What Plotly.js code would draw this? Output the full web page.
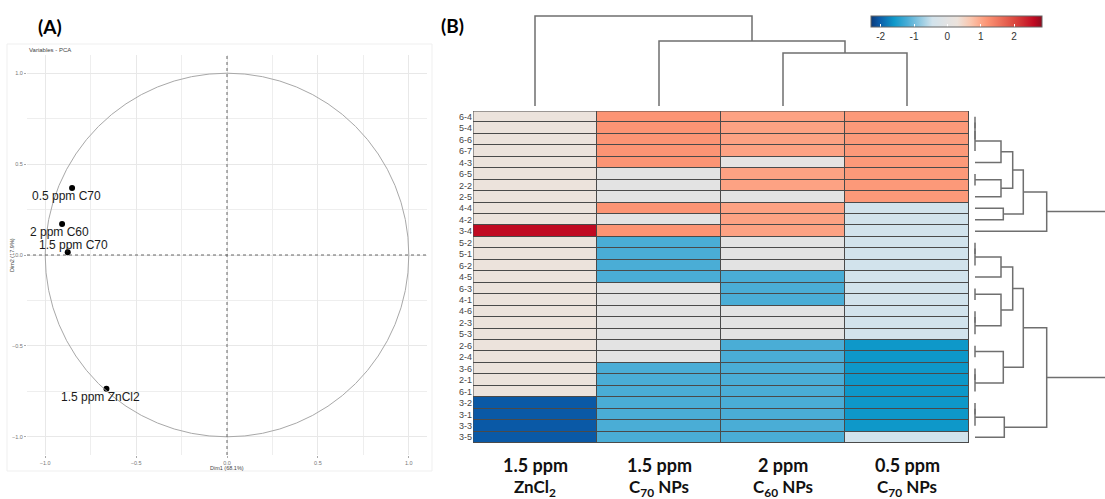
<!DOCTYPE html>
<html>
<head>
<meta charset="utf-8">
<script src="https://cdn.plot.ly/plotly-3.0.1.min.js"></script>
<style>html,body{margin:0;padding:0;background:#fff}#chart{width:1105px;height:499px}</style>
</head>
<body>
<div id="chart"></div>
<script>
// ---------- Panel A: PCA variables ----------
const pcaLabels = ['0.5 ppm C70', '2 ppm C60', '1.5 ppm C70', '1.5 ppm ZnCl2'];
const pcaDim1 = [-0.852, -0.907, -0.876, -0.663];
const pcaDim2 = [0.368, 0.170, 0.015, -0.736];
const pcaLabelDx = [-6, -3, 6, -6];
const pcaLabelDy = [-8, -8, 7, -8];

// ---------- Panel B: heatmap ----------
const rowLabels = ['6-4','5-4','6-6','6-7','4-3','6-5','2-2','2-5','4-4','4-2','3-4','5-2','5-1','6-2','4-5',
                   '6-3','4-1','4-6','2-3','5-3','2-6','2-4','3-6','2-1','6-1','3-2','3-1','3-3','3-5'];
const colLabelsTop = ['1.5 ppm', '1.5 ppm', '2 ppm', '0.5 ppm'];
const colLabelsBottom = ['ZnCl<sub>2</sub>', 'C<sub>70</sub> NPs', 'C<sub>60</sub> NPs', 'C<sub>70</sub> NPs'];
const zZnCl2_15 = [0.3,0.3,0.3,0.3,0.3,0.3,0.3,0.3,0.3,0.3,2.6,0.3,0.3,0.3,0.3,
                   0.3,0.3,0.3,0.3,0.3,0.3,0.3,0.3,0.3,0.3,-2.05,-2.05,-2.05,-2.05];
const zC70_15 =   [1.2,1.2,1.2,1.2,1.2,0,0,0,1.2,0,1.2,-1.2,-1.2,-1.2,-1.2,
                   0,0,0,0,0,0,0,-1.2,-1.2,-1.2,-1.2,-1.2,-1.2,-1.2];
const zC60_2 =    [1.05,1.05,1.05,1.05,0.05,1.05,1.05,0,1.05,1.05,1.05,0,0,0,-1.2,
                   -1.2,-1.2,0,0,0,-1.2,-1.2,-1.2,-1.2,-1.2,-1.2,-1.2,-1.2,-1.2];
const zC70_05 =   [1.15,1.15,1.15,1.15,1.15,1.15,1.15,1.15,-0.45,-0.45,-0.45,-0.45,-0.45,-0.45,-0.45,
                   -0.45,-0.45,-0.45,-0.45,-0.45,-1.6,-1.6,-1.6,-1.6,-1.6,-1.6,-1.6,-1.6,-0.45];
const zMin = -2.29, zMax = 2.84;
const cbTicks = [-2, -1, 0, 1, 2];
const cbTickText = ['-2', '-1', '0', '1', '2'];

// Dendrograms: node = [height, left, right]; a plain number is a leaf index
const colTree = [90, 0, [65, 1, [53, 2, 3]]];
const rowTree = [140,
  [71.7, [48.3, [37.7, [26, [0, [0, [0, 0, 1], 2], 3], 4], [26, [0, 5, 6], 7]], [28.3, 8, 9]], 10],
  [71.7,
    [48.3,
      [37.7, [26, [0, [0, 11, 12], 13], 14], [26, [0, 15, 16], [0, [0, 17, 18], 19]]],
      [28.3, [0, 20, 21], [0, [0, 22, 23], 24]]],
    [29.3, [0, [0, 25, 26], 27], 28]]
];

function dendroPaths(tree) {
  const P = [], H = [];
  function walk(n) {
    if (typeof n === 'number') return {p: n, h: 0};
    const a = walk(n[1]), b = walk(n[2]), h = n[0];
    P.push(a.p, a.p, b.p, b.p, null);
    H.push(a.h, h, h, b.h, null);
    return {p: (a.p + b.p) / 2, h: h};
  }
  walk(tree);
  return {P, H};
}

const W = 1105, Ht = 499;
const px = v => v / W, py = v => (Ht - v) / Ht;

const nRows = rowLabels.length;
const rowIdx = rowLabels.map((_, i) => i);
const colIdx = colLabelsTop.map((_, i) => i);
const zMat = rowIdx.map(i => [zZnCl2_15[i], zC70_15[i], zC60_2[i], zC70_05[i]]);

const f = v => (v - zMin) / (zMax - zMin);
const colorscale = [
  [0, '#0b3a78'], [f(-2.05), '#0a59a6'], [f(-1.6), '#0e98c9'], [f(-1.2), '#4aadd6'],
  [f(-0.45), '#d2e3ec'], [f(0), '#e3e3e3'], [f(0.3), '#ece3dc'], [f(0.7), '#fac6ae'],
  [f(1.05), '#fda283'], [f(1.2), '#fc9474'], [f(2.0), '#dc4a40'], [f(2.6), '#c00a22'], [1, '#8e0c1e']
];

const cd = dendroPaths(colTree);
const rd = dendroPaths(rowTree);
const dendroLine = {color: '#6f6f6f', width: 1.5};

const traces = [
  {type: 'scatter', mode: 'markers', x: pcaDim1, y: pcaDim2, xaxis: 'x', yaxis: 'y',
   marker: {color: '#000', size: 6}, hoverinfo: 'skip', showlegend: false},
  {type: 'heatmap', z: zMat, x: colIdx, y: rowIdx, xaxis: 'x2', yaxis: 'y2',
   zmin: zMin, zmax: zMax, colorscale: colorscale, xgap: 1, ygap: 1,
   colorbar: {orientation: 'h', x: px(956.5), xanchor: 'center', y: py(16), yanchor: 'top',
     len: 171 / W, lenmode: 'fraction', thickness: 11, thicknessmode: 'pixels',
     xpad: 0, ypad: 0, outlinewidth: 1, outlinecolor: '#666',
     tickvals: cbTicks, ticktext: cbTickText, ticks: 'inside', ticklen: 3, tickcolor: '#fff',
     tickfont: {family: 'Liberation Sans, Arial', size: 10, color: '#333'}}},
  {type: 'scatter', mode: 'lines', x: cd.P, y: cd.H, xaxis: 'x3', yaxis: 'y3',
   line: dendroLine, hoverinfo: 'skip', showlegend: false, connectgaps: false},
  {type: 'scatter', mode: 'lines', x: rd.H, y: rd.P, xaxis: 'x4', yaxis: 'y2',
   line: dendroLine, hoverinfo: 'skip', showlegend: false, connectgaps: false}
];

const annotations = [];
const baseFont = 'Liberation Sans, Arial, sans-serif';
const boldFont = 'Lato, Open Sans, sans-serif';
pcaLabels.forEach((t, i) => annotations.push({
  xref: 'x', yref: 'y', x: pcaDim1[i], y: pcaDim2[i], text: t, showarrow: false,
  xshift: pcaLabelDx[i], yshift: pcaLabelDy[i], xanchor: 'center', yanchor: 'middle',
  font: {family: baseFont, size: 12, color: '#1a1a1a'}
}));
annotations.push(
  {xref: 'paper', yref: 'paper', x: px(27), y: py(50), text: 'Variables - PCA', showarrow: false,
   xanchor: 'left', yanchor: 'middle', font: {family: baseFont, size: 6, color: '#444'}},
  {xref: 'paper', yref: 'paper', x: px(227), y: py(468), text: 'Dim1 (68.1%)', showarrow: false,
   xanchor: 'center', yanchor: 'middle', font: {family: baseFont, size: 5.5, color: '#444'}},
  {xref: 'paper', yref: 'paper', x: px(12), y: py(255), text: 'Dim2 (17.9%)', showarrow: false,
   textangle: -90, xanchor: 'center', yanchor: 'middle', font: {family: baseFont, size: 5.5, color: '#444'}},
  {xref: 'paper', yref: 'paper', x: px(50), y: py(26), text: '(A)', showarrow: false,
   xanchor: 'center', yanchor: 'middle', font: {family: boldFont, size: 19, color: '#000', weight: 'bold'}},
  {xref: 'paper', yref: 'paper', x: px(452), y: py(25), text: '(B)', showarrow: false,
   xanchor: 'center', yanchor: 'middle', font: {family: boldFont, size: 19, color: '#000', weight: 'bold'}}
);
colIdx.forEach(i => {
  annotations.push(
    {xref: 'x2', yref: 'paper', x: i, y: py(465), text: colLabelsTop[i], showarrow: false,
     xanchor: 'center', yanchor: 'middle', font: {family: boldFont, size: 18, color: '#111', weight: 'bold'}},
    {xref: 'x2', yref: 'paper', x: i, y: py(488), text: colLabelsBottom[i], showarrow: false,
     xanchor: 'center', yanchor: 'middle', font: {family: boldFont, size: 17, color: '#111', weight: 'bold'}}
  );
});

const shapes = [
  {type: 'rect', xref: 'paper', yref: 'paper', x0: px(7), x1: px(432), y0: py(471), y1: py(44),
   line: {color: '#efefef', width: 1}},
  {type: 'circle', xref: 'x', yref: 'y', x0: -1, x1: 1, y0: -1, y1: 1, line: {color: '#a8a8a8', width: 1}},
  {type: 'line', xref: 'x', yref: 'paper', x0: 0, x1: 0, y0: py(455), y1: py(55), line: {color: '#666', width: 1, dash: 'dot'}},
  {type: 'line', xref: 'paper', yref: 'y', x0: px(27), x1: px(427), y0: 0, y1: 0, line: {color: '#666', width: 1, dash: 'dot'}},
  {type: 'rect', xref: 'x2', yref: 'y2', x0: -0.5, x1: 3.5, y0: -0.5, y1: nRows - 0.5, layer: 'below',
   fillcolor: '#4a4a4a', line: {width: 0}},
  {type: 'rect', xref: 'x2', yref: 'y2', x0: -0.5, x1: 3.5, y0: -0.5, y1: nRows - 0.5,
   line: {color: '#4a4a4a', width: 1}}
];

const hidden = {showgrid: false, zeroline: false, showticklabels: false, ticks: '', showline: false};
const pcaAxis = {range: [-1.1, 1.1], tick0: 0, dtick: 0.5, tickformat: '.1f', showgrid: true,
  gridcolor: '#e8e8e8', gridwidth: 1, zeroline: false, showline: false,
  ticks: 'outside', ticklen: 2, tickcolor: '#aaa',
  tickfont: {family: baseFont, size: 5.5, color: '#777'},
  minor: {dtick: 0.25, showgrid: true, gridcolor: '#eeeeee', gridwidth: 1}};

const layout = {
  width: W, height: Ht, margin: {l: 0, r: 0, t: 0, b: 0},
  paper_bgcolor: '#fff', plot_bgcolor: 'rgba(0,0,0,0)', showlegend: false,
  xaxis: Object.assign({}, pcaAxis, {domain: [px(27), px(427)], anchor: 'y'}),
  yaxis: Object.assign({}, pcaAxis, {domain: [py(455), py(55)], anchor: 'x'}),
  xaxis2: Object.assign({}, hidden, {domain: [px(473), px(969)], range: [-0.5, 3.5], anchor: 'y2'}),
  yaxis2: {domain: [py(443), py(111)], range: [nRows - 0.5, -0.5], anchor: 'x2',
    tickvals: rowIdx, ticktext: rowLabels, ticks: '', showgrid: false, zeroline: false, showline: false,
    tickfont: {family: baseFont, size: 9, color: '#444'}},
  xaxis3: Object.assign({}, hidden, {domain: [px(473), px(969)], range: [-0.5, 3.5], anchor: 'y3'}),
  yaxis3: Object.assign({}, hidden, {domain: [py(106), py(14)], range: [0, 92], anchor: 'x3'}),
  xaxis4: Object.assign({}, hidden, {domain: [px(973), 1], range: [-2, 130], anchor: 'y2'}),
  annotations: annotations,
  shapes: shapes
};

Plotly.newPlot('chart', traces, layout, {displayModeBar: false, staticPlot: true});
</script>
</body>
</html>
